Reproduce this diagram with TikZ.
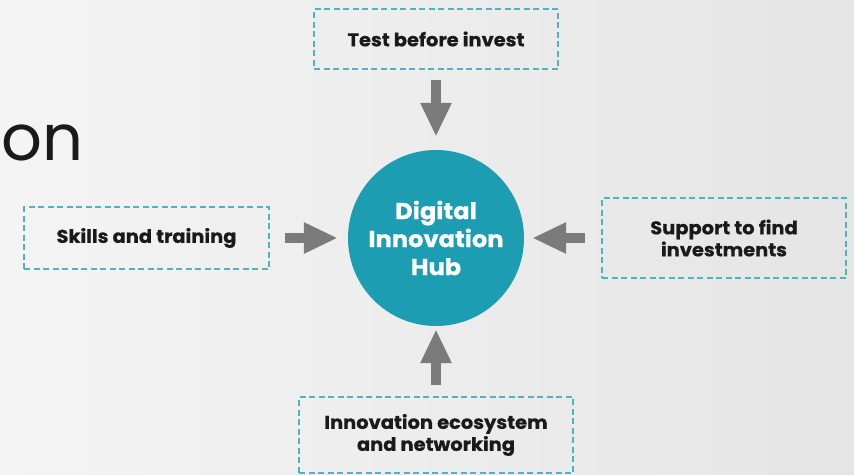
\documentclass[tikz,border=0pt]{standalone}
\usepackage{fontspec}
\setmainfont{Poppins}
\newfontfamily\boxfont[FakeStretch=1.05,FakeBold=0.6]{Poppins Bold}
\usepackage{tikz}
\usetikzlibrary{positioning, arrows.meta}
\definecolor{hubteal}{HTML}{1C9DB2}
\definecolor{dashteal}{HTML}{4DB5C0}
\definecolor{arrowgrey}{HTML}{7B7B7B}
\definecolor{bgleft}{HTML}{F4F4F4}
\definecolor{bgright}{HTML}{E5E5E5}
\definecolor{ink}{HTML}{1A1A1A}

\begin{document}
\begin{tikzpicture}[x=1pt,y=-1pt,
  box/.style={draw=dashteal,line width=1.6pt,dash pattern=on 6pt off 3.5pt,
              minimum width=244pt,minimum height=60pt,align=center,
              text=ink,font=\fontsize{18.5}{22}\boxfont},
  push/.style={draw=arrowgrey,line width=10pt,
               -{Triangle[length=34pt,width=29pt]}}]
  \useasboundingbox (0,0) rectangle (854,474);
  \fill[left color=bgleft,right color=bgright] (0,0) rectangle (854,474);
  \node[anchor=base west,inner sep=0pt,text=ink,
        font=\fontsize{64}{64}\selectfont] (On) at (1,160) {on};
  \node[circle,fill=hubteal,inner sep=0pt,minimum size=176pt,align=center,
        text=white,font=\fontsize{23}{28}\boxfont] (Hub) at (436,238)
        {Digital\\Innovation\\Hub};
  \node[box, above=80pt of Hub] (Test) {Test before invest};
  \node[box, left=78pt of Hub, minimum width=245pt, minimum height=62pt] (Sk)
        {Skills and training};
  \node[box, right=77pt of Hub, minimum height=80pt] (Sup)
        {Support to find\\investments};
  \node[box, below=70pt of Hub, minimum width=274pt, minimum height=76pt] (Eco)
        {Innovation ecosystem\\and networking};
  \draw[push,shorten <=10pt,shorten >=13pt] (Test.south) -- (Hub.north);
  \draw[push,shorten <=15pt,shorten >=10pt] (Sk.east) -- (Hub.west);
  \draw[push,shorten <=16pt,shorten >=8pt] (Sup.west) -- (Hub.east);
  \draw[push,shorten <=11pt,shorten >=3pt] (Eco.north) -- (Hub.south);
\end{tikzpicture}
\end{document}
